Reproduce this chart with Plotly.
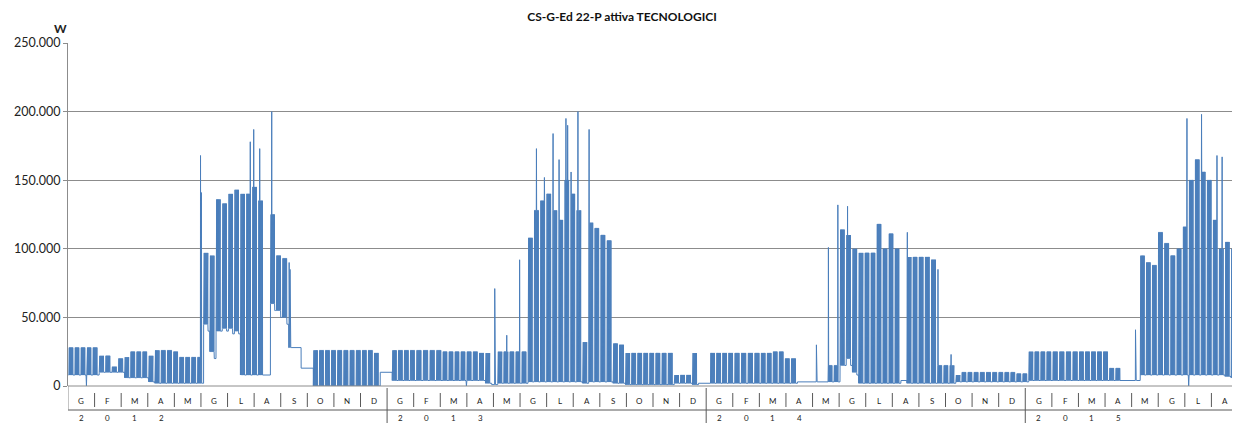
import datetime as dt
import calendar
import plotly.graph_objects as go

# ---------------- data (kW) ----------------
TITLE = "CS-G-Ed 22-P attiva TECNOLOGICI"
UNIT = "W"
MONTH_LABELS = ["G", "F", "M", "A", "M", "G", "L", "A", "S", "O", "N", "D"]
YEAR_LABELS = ["2012", "2013", "2014", "2015"]
N_MONTHS = 44                       # Jan 2012 .. Aug 2015
WEEK0 = "2012-01-02"                # first Monday of the weekly lists

# weekday daytime level per week (kW)
HIGH = [
    28, 28, 28, 28, 28,   22, 22, 14, 20,   21, 25, 25, 25,   22, 26, 26, 26, 25,
    21, 21, 21, 21,   97, 95, 136, 133,   140, 143, 140, 140, 145,   135, 8, 125, 95,
    93, 28, 28, 13,   13, 26, 26, 26, 26,   26, 26, 26, 26,   26, 26, 24, 10, 10,
    26, 26, 26, 26,   26, 26, 26, 26,   25, 25, 25, 25,   25, 25, 24, 24, 1,
    25, 25, 25, 25,   25, 108, 128, 135,   140, 128, 121, 150, 140,   128, 32, 119, 115,
    110, 106, 31, 30, 24,   24, 24, 24, 24,   24, 24, 24, 8,   8, 8, 24, 2, 2,
    24, 24, 24, 24,   24, 24, 24, 24,   24, 24, 25, 25, 20,   20, 3, 3, 3,
    3, 3, 15, 15,   114, 110, 100, 97, 97,   97, 118, 100, 111,   100, 4, 94, 94,
    94, 94, 92, 15, 15,   15, 8, 10, 10,   10, 10, 10, 10,   10, 10, 10, 9, 9,
    25, 25, 25, 25,   25, 25, 25, 25,   25, 25, 25, 25, 25,   13, 13, 4, 4,
    4, 95, 90, 88,   112, 104, 95, 100, 116,   150, 165, 156, 150,   121, 100, 105, 100, 126,
]
# weekday night level per week (kW)
LOW = [
    8, 8, 8, 8, 8,   10, 10, 10, 10,   6, 6, 6, 6,   3, 2, 2, 2, 2,
    2, 2, 2, 2,   45, 25, 40, 42,   42, 40, 8, 8, 8,   8, 8, 60, 55,
    50, 28, 28, 13,   13, 0, 0, 0, 0,   0, 0, 0, 0,   0, 0, 0, 10, 10,
    4, 4, 4, 4,   4, 4, 4, 4,   4, 4, 4, 4,   4, 4, 4, 2, 1,
    2, 2, 2, 2,   2, 3, 3, 3,   3, 3, 3, 3, 3,   3, 2, 3, 3,
    3, 3, 2, 2, 1,   1, 1, 1, 1,   1, 1, 1, 2,   2, 2, 1, 2, 2,
    2, 2, 2, 2,   2, 2, 2, 2,   2, 2, 2, 2, 2,   2, 3, 3, 3,
    3, 3, 3, 3,   15, 20, 10, 2, 2,   2, 2, 2, 2,   2, 4, 2, 2,
    2, 2, 2, 2, 2,   2, 3, 3, 3,   3, 3, 3, 3,   3, 3, 3, 3, 3,
    4, 4, 4, 4,   4, 4, 4, 4,   4, 4, 4, 4, 4,   4, 4, 4, 4,
    4, 8, 8, 8,   8, 8, 8, 8, 8,   8, 8, 8, 8,   8, 8, 7, 6, 6,
]
# weekend level per week (kW)
WKEND = [
    8, 8, 8, 8, 8,   10, 10, 10, 10,   6, 6, 6, 6,   3, 2, 2, 2, 2,
    2, 2, 2, 2,   40, 20, 40, 40,   38, 38, 8, 8, 8,   8, 8, 55, 50,
    45, 28, 28, 13,   13, 0, 0, 0, 0,   0, 0, 0, 0,   0, 0, 0, 10, 10,
    4, 4, 4, 4,   4, 4, 4, 4,   4, 4, 4, 4,   4, 4, 4, 2, 1,
    2, 2, 2, 2,   2, 3, 3, 3,   3, 3, 3, 3, 3,   3, 2, 3, 3,
    3, 3, 2, 2, 1,   1, 1, 1, 1,   1, 1, 1, 2,   2, 2, 1, 2, 2,
    2, 2, 2, 2,   2, 2, 2, 2,   2, 2, 2, 2, 2,   2, 3, 3, 3,
    3, 3, 3, 3,   15, 15, 8, 2, 2,   2, 2, 2, 2,   2, 4, 2, 2,
    2, 2, 2, 2, 2,   2, 3, 3, 3,   3, 3, 3, 3,   3, 3, 3, 3, 3,
    4, 4, 4, 4,   4, 4, 4, 4,   4, 4, 4, 4, 4,   4, 4, 4, 4,
    4, 8, 8, 8,   8, 8, 8, 8, 8,   8, 8, 8, 8,   8, 8, 7, 6, 6,
]
# isolated daily peaks / dips (kW)
SPIKE_DATES = [
    "2012-01-22", "2012-05-31", "2012-06-01", "2012-07-27", "2012-07-31", "2012-08-07",
    "2012-08-21", "2012-09-10", "2012-09-11",
    "2013-03-31", "2013-05-02", "2013-05-16", "2013-05-31", "2013-06-19", "2013-06-28",
    "2013-07-08", "2013-07-15", "2013-07-23", "2013-07-25", "2013-07-29", "2013-08-06",
    "2013-08-19",
    "2014-05-05", "2014-05-19", "2014-05-30", "2014-06-10", "2014-08-18", "2014-09-22",
    "2014-10-07",
    "2015-05-05", "2015-07-03", "2015-07-05", "2015-07-20", "2015-08-07", "2015-08-13",
]
SPIKE_VALS = [
    0, 168, 141, 178, 187, 173,
    200, 90, 85,
    0, 71, 37, 92, 173, 152,
    184, 165, 195, 190, 156, 200,
    187,
    30, 101, 132, 131, 112, 85,
    23,
    41, 195, 0, 198, 168, 167,
]

# ---------------- build the series ----------------
KW = 1000.0
start = dt.datetime.fromisoformat(WEEK0)
pts = [(start - dt.timedelta(hours=12), WKEND[0])]
for w in range(len(HIGH)):
    for d in range(7):
        day = start + dt.timedelta(days=7 * w + d)
        if d < 5:
            seq = ((1, LOW[w]), (8, HIGH[w]), (17, HIGH[w]), (20, LOW[w]))
        else:
            seq = ((1, WKEND[w]), (23, WKEND[w]))
        for h, v in seq:
            pts.append((day + dt.timedelta(hours=h), v))
for s, v in zip(SPIKE_DATES, SPIKE_VALS):
    pts.append((dt.datetime.fromisoformat(s) + dt.timedelta(hours=12), v))
pts.sort(key=lambda p: p[0])


def month_pos(t):
    days = calendar.monthrange(t.year, t.month)[1]
    frac = (t.day - 1 + t.hour / 24.0) / days
    return (t.year - 2012) * 12 + (t.month - 1) + frac


xs, ys = [], []
for t, v in pts:
    m = month_pos(t)
    if 0 <= m <= N_MONTHS:
        xs.append(m)
        ys.append(v * KW)

# ---------------- figure ----------------
GRID = "#8c8c8c"
FONT = "Lato"
OFF = 8                      # page body margin
W_PX, H_PX = 1240 - OFF, 423 - OFF
L, R, T, B = 68 - OFF, 2, 43 - OFF, 37
PLOT_TOP, PLOT_BOT = 43, 386     # reference pixel rows of 250.000 and 0
PH = PLOT_BOT - PLOT_TOP
PW = 1238 - 68


def py(px):  # reference pixel row -> paper y
    return (PLOT_BOT - px) / PH


fig = go.Figure(
    go.Scatter(x=xs, y=ys, mode="lines", line=dict(color="#4A7EBB", width=1),
               hoverinfo="skip")
)

LINE = "#595959"
shapes = []
shapes.append(dict(type="line", xref="x", yref="paper", x0=0, x1=N_MONTHS,
                   y0=0, y1=0, line=dict(color=GRID, width=1)))
shapes.append(dict(type="line", xref="x", yref="paper", x0=0, x1=N_MONTHS,
                   y0=py(410), y1=py(410), line=dict(color=LINE, width=1)))
shapes.append(dict(type="line", xref="x", yref="paper", x0=0, x1=0,
                   y0=0, y1=py(410), line=dict(color=GRID, width=1)))
for k in range(1, N_MONTHS + 1):
    if k % 12 == 0 and k < N_MONTHS:
        shapes.append(dict(type="line", xref="x", yref="paper", x0=k, x1=k,
                           y0=py(388), y1=py(425), line=dict(color=LINE, width=1)))
    else:
        shapes.append(dict(type="line", xref="x", yref="paper", x0=k, x1=k,
                           y0=py(393), y1=py(407), line=dict(color=LINE, width=1)))

annotations = []
for k in range(N_MONTHS):
    annotations.append(dict(x=k + 0.5, y=py(401), xref="x", yref="paper",
                            text=MONTH_LABELS[k % 12], showarrow=False,
                            font=dict(family=FONT, size=8, color="#222"),
                            xanchor="center", yanchor="middle"))
for yi, yl in enumerate(YEAR_LABELS):
    for i, ch in enumerate(yl):
        annotations.append(dict(x=yi * 12 + i + 0.5, y=py(418), xref="x", yref="paper",
                                text=ch, showarrow=False,
                                font=dict(family=FONT, size=8, color="#222"),
                                xanchor="center", yanchor="middle"))
annotations.append(dict(x=(60 - 68) / PW, y=py(29), xref="paper", yref="paper",
                        text="<b>" + UNIT + "</b>", showarrow=False,
                        font=dict(family=FONT, size=12, color="#222"),
                        xanchor="center", yanchor="middle"))

fig.update_layout(
    width=W_PX, height=H_PX,
    margin=dict(l=L, r=R, t=T, b=B, pad=0),
    paper_bgcolor="white", plot_bgcolor="white",
    showlegend=False,
    separators=",.",
    title=dict(text="<b>" + TITLE + "</b>", x=(622 - OFF) / W_PX, xanchor="center",
               y=1 - (17 - OFF) / H_PX, yanchor="middle",
               font=dict(family=FONT, size=12, color="#111")),
    shapes=shapes,
    annotations=annotations,
)
fig.update_xaxes(range=[0, N_MONTHS], showgrid=False, showticklabels=False,
                 zeroline=False, showline=False, ticks="")
fig.update_yaxes(range=[0, 250000], dtick=50000, tick0=0, tickformat=",.0f",
                 gridcolor=GRID, gridwidth=1, showline=True, linecolor=GRID,
                 ticks="outside", ticklen=4, tickcolor=GRID, zeroline=False,
                 tickfont=dict(family=FONT, size=12.5, color="#222"))

fig.write_html("out.html")
